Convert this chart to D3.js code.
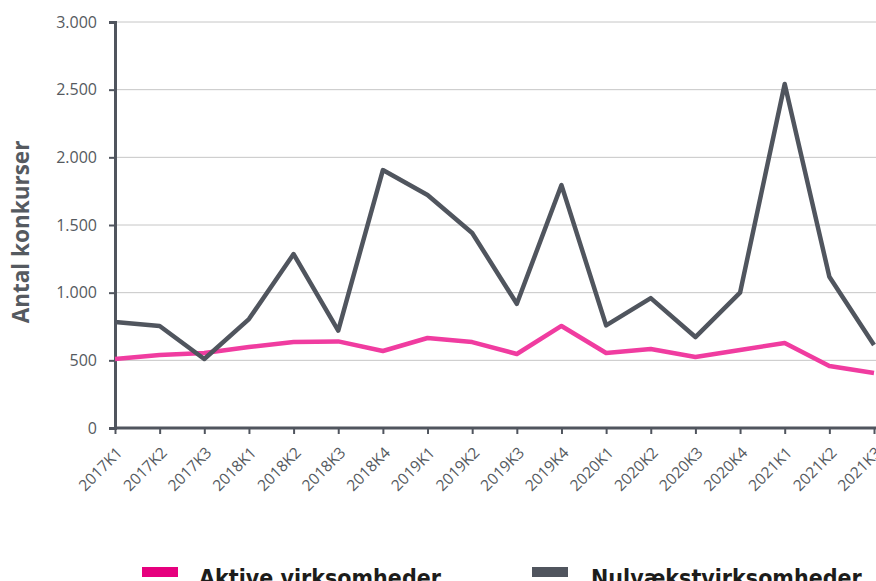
<!DOCTYPE html>
<html>
<head>
<meta charset="utf-8">
<script src="https://cdn.jsdelivr.net/npm/d3@7"></script>
<style>
  body { margin: 0; background: #fff; }
  svg { display: block; }
</style>
</head>
<body>
<script>
var quarters = ['2017K1','2017K2','2017K3','2018K1','2018K2','2018K3','2018K4',
                '2019K1','2019K2','2019K3','2019K4','2020K1','2020K2','2020K3',
                '2020K4','2021K1','2021K2','2021K3'];
var aktive = [510, 540, 554, 598, 635, 640, 569, 665, 635, 547, 754, 554, 584, 525, 576, 628, 458, 406];
var nulvaekst = [783, 754, 510, 805, 1285, 720, 1906, 1722, 1441, 918, 1795, 758, 960, 672, 1000, 2542, 1118, 613];
var yTicks = [0, 500, 1000, 1500, 2000, 2500, 3000];

(function() {
    var W = 876, H = 581,
        mLeft = 115, mRight = 874, mTop = 22, mBottom = 428,
        grey = '#50555e', pink = '#f03ca0';

    var svg = d3.select('body').append('svg')
        .attr('width', W)
        .attr('height', H);

    var x = d3.scalePoint().domain(quarters).range([mLeft, mRight]);
    var y = d3.scaleLinear().domain([0, 3000]).range([mBottom, mTop]);
    var fmt = function(d) { return d3.format(',')(d).replace(/,/g, '.'); };

    // gridlines
    svg.append('g').selectAll('line')
        .data(yTicks.slice(1))
        .enter().append('line')
        .attr('x1', mLeft).attr('x2', W)
        .attr('y1', function(d) { return y(d); })
        .attr('y2', function(d) { return y(d); })
        .attr('stroke', '#c6c6c6')
        .attr('stroke-width', 1);

    // y axis
    var yAxis = svg.append('g')
        .attr('transform', 'translate(' + mLeft + ',0)')
        .call(d3.axisLeft(y).tickValues(yTicks).tickFormat(fmt).tickSize(6).tickPadding(12));
    yAxis.select('.domain').attr('stroke', grey).attr('stroke-width', 3);
    yAxis.selectAll('.tick line').attr('stroke', grey).attr('stroke-width', 2);
    yAxis.selectAll('text')
        .attr('fill', '#555a60')
        .style('font-family', '"Open Sans", sans-serif')
        .style('font-size', '16px');

    // x axis
    var xAxis = svg.append('g')
        .attr('transform', 'translate(0,' + mBottom + ')')
        .call(d3.axisBottom(x).tickSize(6).tickSizeOuter(0));
    xAxis.select('.domain').attr('d', 'M' + mLeft + ',0H' + W).attr('stroke', grey).attr('stroke-width', 3);
    xAxis.selectAll('.tick line').attr('stroke', grey).attr('stroke-width', 2);
    xAxis.selectAll('text')
        .attr('fill', '#555a60')
        .style('font-family', '"Open Sans", sans-serif')
        .style('font-size', '15.5px')
        .attr('text-anchor', 'end')
        .attr('y', 0)
        .attr('dy', '0.35em')
        .attr('transform', 'translate(4,22) rotate(-45)');

    // y title
    svg.append('text')
        .attr('transform', 'translate(' + [21, 232] + ') rotate(-90)')
        .attr('text-anchor', 'middle')
        .attr('dy', '0.35em')
        .attr('fill', '#555a60')
        .style('font-family', '"Open Sans", sans-serif')
        .style('font-weight', 'bold')
        .style('font-size', '22.5px')
        .text('Antal konkurser');

    // lines
    var line = d3.line()
        .x(function(d, i) { return x(quarters[i]); })
        .y(function(d) { return y(d); });

    svg.append('path')
        .datum(aktive)
        .attr('d', line)
        .attr('fill', 'none')
        .attr('stroke', pink)
        .attr('stroke-width', 4.5)
        .attr('stroke-linejoin', 'round');

    svg.append('path')
        .datum(nulvaekst)
        .attr('d', line)
        .attr('fill', 'none')
        .attr('stroke', grey)
        .attr('stroke-width', 4.5)
        .attr('stroke-linejoin', 'round');

    // legend
    var legend = [['Aktive virksomheder', '#e6007e', 142, 199], ['Nulvækstvirksomheder', '#50555e', 532, 591]];
    legend.map(function(d) {
        svg.append('rect')
            .attr('x', d[2]).attr('y', 567)
            .attr('width', 36).attr('height', 10)
            .attr('fill', d[1]);
        svg.append('text')
            .attr('x', d[3]).attr('y', 586)
            .attr('fill', '#1d1d1b')
            .style('font-family', '"DejaVu Sans Condensed", "DejaVu Sans", sans-serif')
            .style('font-stretch', 'condensed')
            .style('font-weight', 'bold')
            .style('font-size', '23px')
            .text(d[0]);
    });
})();
</script>
</body>
</html>
